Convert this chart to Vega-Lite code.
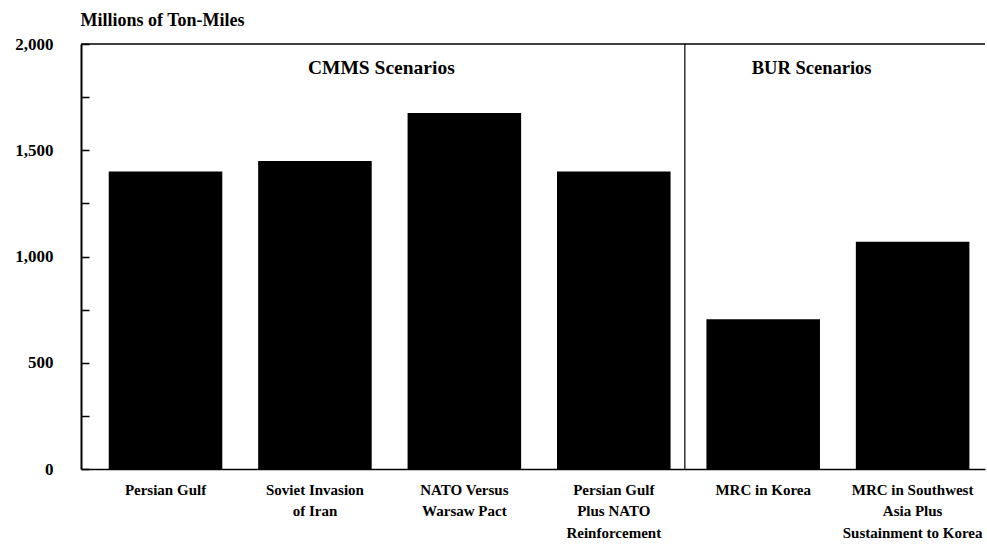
{
  "$schema": "https://vega.github.io/schema/vega-lite/v6.json",
  "width": 904,
  "height": 425,
  "autosize": {"type": "none"},
  "padding": {"left": 81, "top": 44, "right": 2, "bottom": 76},
  "config": {
    "view": {"stroke": null},
    "font": "Liberation Serif",
    "text": {"font": "Liberation Serif", "fontWeight": "bold"}
  },
  "datasets": {
    "bars": [
      {"scenario": "Persian Gulf", "value": 1400},
      {"scenario": "Soviet Invasion|of Iran", "value": 1450},
      {"scenario": "NATO Versus|Warsaw Pact", "value": 1675},
      {"scenario": "Persian Gulf|Plus NATO|Reinforcement", "value": 1400},
      {"scenario": "MRC in Korea", "value": 705},
      {"scenario": "MRC in Southwest|Asia Plus|Sustainment to Korea", "value": 1070}
    ]
  },
  "layer": [
    {
      "data": {"name": "bars"},
      "mark": {"type": "bar", "color": "black"},
      "encoding": {
        "x": {
          "field": "scenario",
          "type": "nominal",
          "sort": null,
          "scale": {
            "domain": ["Persian Gulf", "Soviet Invasion|of Iran", "NATO Versus|Warsaw Pact", "Persian Gulf|Plus NATO|Reinforcement", "MRC in Korea", "MRC in Southwest|Asia Plus|Sustainment to Korea"],
            "paddingInner": 0.24, "paddingOuter": 0.145, "align": 0.64
          },
          "axis": {
            "title": null,
            "labelAngle": 0,
            "labelExpr": "split(datum.label, '|')",
            "labelFont": "Liberation Serif",
            "labelFontWeight": "bold",
            "labelFontSize": 15,
            "labelLineHeight": 21.5,
            "labelColor": "black",
            "labelBaseline": "top",
            "labelPadding": 13,
            "ticks": false,
            "domainColor": "black",
            "domainWidth": 1.5
          }
        },
        "y": {
          "field": "value",
          "type": "quantitative",
          "scale": {"domain": [0, 2000], "nice": false},
          "axis": {
            "title": "Millions of Ton-Miles",
            "titleAngle": 0,
            "titleAlign": "left",
            "titleBaseline": "alphabetic",
            "titleX": -1,
            "titleY": -19,
            "titleFont": "Liberation Serif",
            "titleFontWeight": "bold",
            "titleFontSize": 18,
            "titleColor": "black",
            "values": [0, 250, 500, 750, 1000, 1250, 1500, 1750, 2000],
            "labelExpr": "datum.value % 500 === 0 ? format(datum.value, ',') : ''",
            "labelFont": "Liberation Serif",
            "labelFontWeight": "bold",
            "labelFontSize": 17,
            "labelColor": "black",
            "labelPadding": 36,
            "grid": false,
            "tickSize": -8,
            "tickColor": "black",
            "tickWidth": 1.5,
            "domainColor": "black",
            "domainWidth": 2
          }
        }
      }
    },
    {
      "data": {"values": [{"v": 2000}]},
      "mark": {"type": "rule", "color": "black", "strokeWidth": 1.5},
      "encoding": {"y": {"field": "v", "type": "quantitative"}}
    },
    {
      "data": {"values": [{"scenario": "MRC in Korea"}]},
      "mark": {"type": "rule", "color": "black", "strokeWidth": 1.2},
      "encoding": {
        "x": {"field": "scenario", "type": "nominal", "bandPosition": -0.19}
      }
    },
    {
      "data": {"values": [{"scenario": "NATO Versus|Warsaw Pact", "label": "CMMS Scenarios", "v": 1860}]},
      "mark": {"type": "text", "fontSize": 19.5, "color": "black", "dx": -83, "baseline": "alphabetic"},
      "encoding": {
        "x": {"field": "scenario", "type": "nominal", "bandPosition": 0.5},
        "y": {"field": "v", "type": "quantitative"},
        "text": {"field": "label"}
      }
    },
    {
      "data": {"values": [{"scenario": "MRC in Southwest|Asia Plus|Sustainment to Korea", "label": "BUR Scenarios", "v": 1860}]},
      "mark": {"type": "text", "fontSize": 18.5, "color": "black", "dx": -101, "baseline": "alphabetic"},
      "encoding": {
        "x": {"field": "scenario", "type": "nominal", "bandPosition": 0.5},
        "y": {"field": "v", "type": "quantitative"},
        "text": {"field": "label"}
      }
    }
  ]
}
